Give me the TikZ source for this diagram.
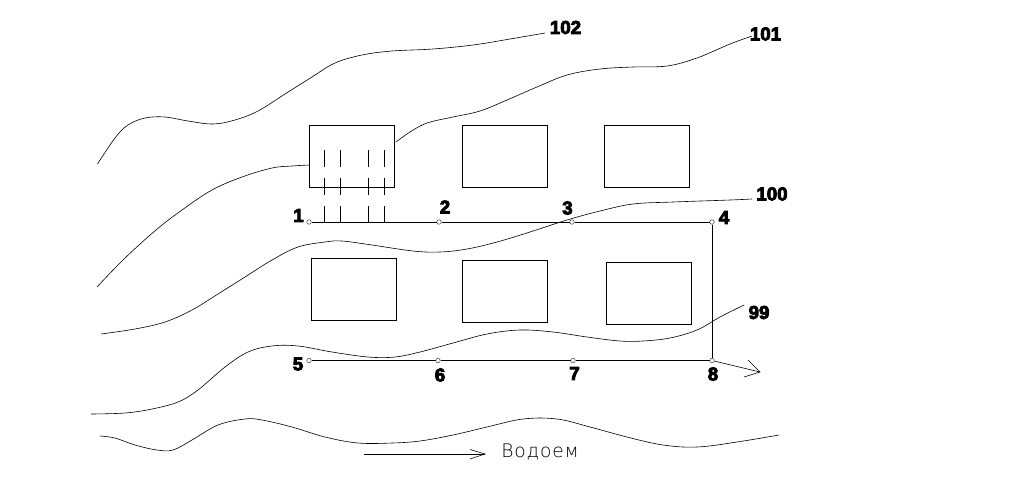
\documentclass[tikz,border=0pt]{standalone}
\usepackage{fontspec}
\setmainfont{Liberation Sans}
\newfontfamily\thinfont{DejaVu Sans ExtraLight}
\newfontfamily\lblfont[BoldFeatures={FakeBold=4.5}]{Liberation Sans}
\tikzset{
  px/.style={x=0.75pt,y=-0.75pt},
  house/.style={draw,line width=0.6pt,rectangle,minimum width=63.75pt,minimum height=46.5pt,inner sep=0pt,anchor=north west},
  joint/.style={draw=black!75,circle,fill=white,line width=0.35pt,minimum size=3.4pt,inner sep=0pt},
  lbl/.style={font=\lblfont\bfseries\fontsize{14}{14}\selectfont,inner sep=0pt},
  contour/.style={line width=0.45pt,smooth,tension=0.6},
  pipe/.style={line width=0.65pt},
  tick/.style={line width=0.6pt}
}
\begin{document}
\begin{tikzpicture}[px]
\useasboundingbox[fill=white] (0,0) rectangle (1024,483);
% houses
\node[house] (h1) at (309,125) {};
\node[house] (h2) at (462,125) {};
\node[house] (h3) at (604,125) {};
\node[house] (h4) at (311,258) {};
\node[house] (h5) at (462,260) {};
\node[house] (h6) at (606,262) {};
% joints
\node[joint] (j1) at (309,222) {};
\node[joint] (j2) at (439,222) {};
\node[joint] (j3) at (572,222) {};
\node[joint] (j4) at (712,222) {};
\node[joint] (j5) at (309,360.5) {};
\node[joint] (j6) at (438,360.5) {};
\node[joint] (j7) at (573,360.5) {};
\node[joint] (j8) at (712,360.5) {};
% labels
\node[lbl] (l1) at (298.5,215.5) {1};
\node[lbl] (l2) at (445,207) {2};
\node[lbl] (l3) at (567.5,208) {3};
\node[lbl] (l4) at (724,217.5) {4};
\node[lbl] (l5) at (298,364) {5};
\node[lbl] (l6) at (440,375) {6};
\node[lbl] (l7) at (574.5,373.5) {7};
\node[lbl] (l8) at (713,374) {8};
\node[lbl] (l99) at (759,312.5) {99};
\node[lbl] (l100) at (772,194) {100};
\node[lbl] (l101) at (765.5,34) {101};
\node[lbl] (l102) at (565.5,27.5) {102};
\node[font=\thinfont\fontsize{14}{14}\selectfont,inner sep=0pt] (wb) at (540,451.5) {В\kern.6pt о\kern.6pt д\kern.6pt о\kern.6pt е\kern.6pt м};
% pipes
\draw[pipe] (j1) -- (j2);
\draw[pipe] (j2) -- (j3);
\draw[pipe] (j3) -- (j4);
\draw[pipe] (j4) -- (j8);
\draw[pipe] (j5) -- (j6);
\draw[pipe] (j6) -- (j7);
\draw[pipe] (j7) -- (j8);
% outlet arrow
\coordinate (outtip) at (760,372);
\coordinate (wtail) at (364,454);
\coordinate (wtip) at (485,454);
\draw[line width=0.45pt] (j8) -- (outtip);
\draw[line width=0.45pt] (748,360) -- (outtip) -- (744,377);
\draw[line width=0.55pt] (wtail) -- (wtip);
\draw[line width=0.45pt] (470,449.5) -- (wtip) -- (470,459);
% ticks (dashed verticals)
\foreach \x in {324.5,340.5,368.5,384.5}{
  \draw[tick] (\x,150) -- (\x,167);
  \draw[tick] (\x,178) -- (\x,195);
  \draw[tick] (\x,206) -- (\x,222);
}
% contours
\draw[contour] plot coordinates {(97.5,164) (115,138) (128,125) (145,118) (165,117) (188,121) (213,124) (235,120) (258,111) (285,94) (312,77) (335,63) (362,55) (392,51) (433,49) (473,45) (510,39) (545,33)};
\draw[contour] plot coordinates {(396,142) (410,132) (427,123) (453,117) (480,111) (507,100) (537,87) (567,75) (600,69) (633,67) (667,66) (697,58) (730,44) (752,36)};
\draw[contour] plot coordinates {(97,287) (124,259) (156,230) (182,210) (212,190) (242,177) (272,168) (292,166) (309,165)};
\draw[contour] plot coordinates {(101,334) (135,329) (165,322) (192,310) (218,294) (245,277) (272,260) (298,247) (325,242) (342,241) (372,245) (413,251) (440,252) (467,249) (497,242) (530,232) (567,220) (600,211) (633,204) (673,202) (730,200) (752,199)};
\draw[contour] plot coordinates {(91,414) (125,413) (152,409) (178,402) (198,390) (225,367) (248,352) (272,346) (298,346) (332,352) (368,357) (395,357) (420,352) (453,343) (487,334) (520,330) (553,332) (587,337) (620,341) (643,341) (670,338) (697,330) (720,317) (744,305)};
\draw[contour] plot coordinates {(100,436) (115,438) (135,445) (157,450) (173,450) (192,440) (218,425) (245,419) (262,420) (292,427) (325,437) (358,443) (392,443) (420,441) (453,435) (487,427) (523,419) (557,419) (590,427) (627,437) (663,445) (697,447) (737,442) (779,435)};
\end{tikzpicture}
\end{document}
